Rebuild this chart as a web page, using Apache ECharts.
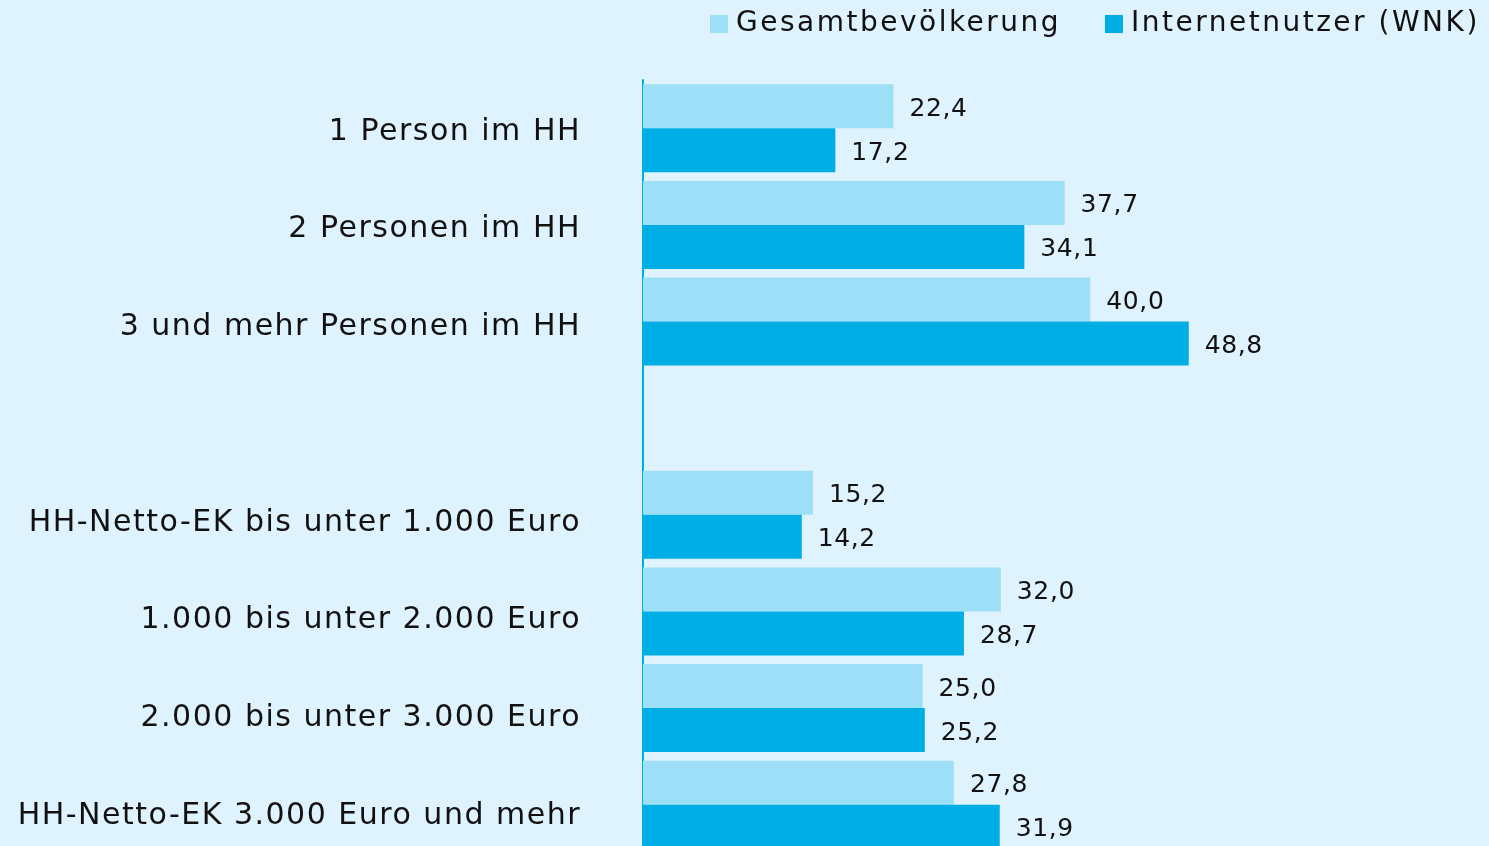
<!DOCTYPE html>
<html><head><meta charset="utf-8">
<script src="https://cdn.jsdelivr.net/npm/echarts@6/dist/echarts.min.js"></script>
<style>html,body{margin:0;padding:0;background:#dff3fe}#c{width:1489px;height:846px}</style>
</head><body><div id="c"></div>
<script>
const categories = ['1 Person im HH','2 Personen im HH','3 und mehr Personen im HH','','HH-Netto-EK bis unter 1.000 Euro','1.000 bis unter 2.000 Euro','2.000 bis unter 3.000 Euro','HH-Netto-EK 3.000 Euro und mehr'];
const gesamt = [22.4, 37.7, 40.0, '-', 15.2, 32.0, 25.0, 27.8];
const internet = [17.2, 34.1, 48.8, '-', 14.2, 28.7, 25.2, 31.9];
const seriesNames = ['Gesamtbevölkerung', 'Internetnutzer (WNK)'];

// the reference typeface is tracked wider; emulate with canvas letter spacing
(function () {
  const orig = CanvasRenderingContext2D.prototype.fillText;
  CanvasRenderingContext2D.prototype.fillText = function (t, x, y, w) {
    const m = /(\d+(?:\.\d+)?)px/.exec(this.font);
    const size = m ? +m[1] : 12;
    const sp = size >= 30 ? 1.5 : (size >= 27 ? 2.5 : 0.6);
    this.letterSpacing = sp + 'px';
    return orig.call(this, t, x, y, w);
  };
})();

const fmt = p => (typeof p.value === 'number') ? p.value.toFixed(1).replace('.', ',') : '';
const font = 'DejaVu Sans';
const legendText = {fontFamily: font, fontSize: 28, color: '#111', padding: [0, 0, 0, 3]};
const valueLabel = {show: true, position: 'right', distance: 16, offset: [0, 3], formatter: fmt, fontFamily: font, fontSize: 25, color: '#111'};
const chart = echarts.init(document.getElementById('c'), null, {renderer: 'canvas'});
chart.setOption({
  backgroundColor: '#dff3fe',
  animation: false,
  legend: [
    {top: 5, left: 705, itemWidth: 18, itemHeight: 18, icon: 'rect', textStyle: legendText, data: [seriesNames[0]]},
    {top: 5, left: 1100, itemWidth: 18, itemHeight: 18, icon: 'rect', textStyle: legendText, data: [seriesNames[1]]}
  ],
  grid: [
    {left: 643, top: 80, right: 175, bottom: -7, containLabel: false, outerBoundsMode: 'none'},
    {left: 643, top: 83, right: 175, height: 782, containLabel: false, outerBoundsMode: 'none'}
  ],
  xAxis: [
    {type: 'value', min: 0, max: 60, show: false, gridIndex: 0},
    {type: 'value', min: 0, max: 60, show: false, gridIndex: 1}
  ],
  yAxis: [
    {type: 'category', data: categories, inverse: true, gridIndex: 0,
     axisLine: {show: true, lineStyle: {color: '#00aee6', width: 2}},
     axisTick: {show: false}, axisLabel: {show: false}},
    {type: 'category', data: categories, inverse: true, gridIndex: 1,
     axisLine: {show: false}, axisTick: {show: false},
     axisLabel: {fontFamily: font, fontSize: 30, color: '#111', margin: 62, interval: 0}}
  ],
  series: [
    {name: seriesNames[0], type: 'bar', data: gesamt, barWidth: 44, barGap: '0%',
     itemStyle: {color: '#9ddff7'}, label: valueLabel},
    {name: seriesNames[1], type: 'bar', data: internet, barWidth: 44, barGap: '0%',
     itemStyle: {color: '#00aee6'}, label: valueLabel}
  ]
});
</script></body></html>
